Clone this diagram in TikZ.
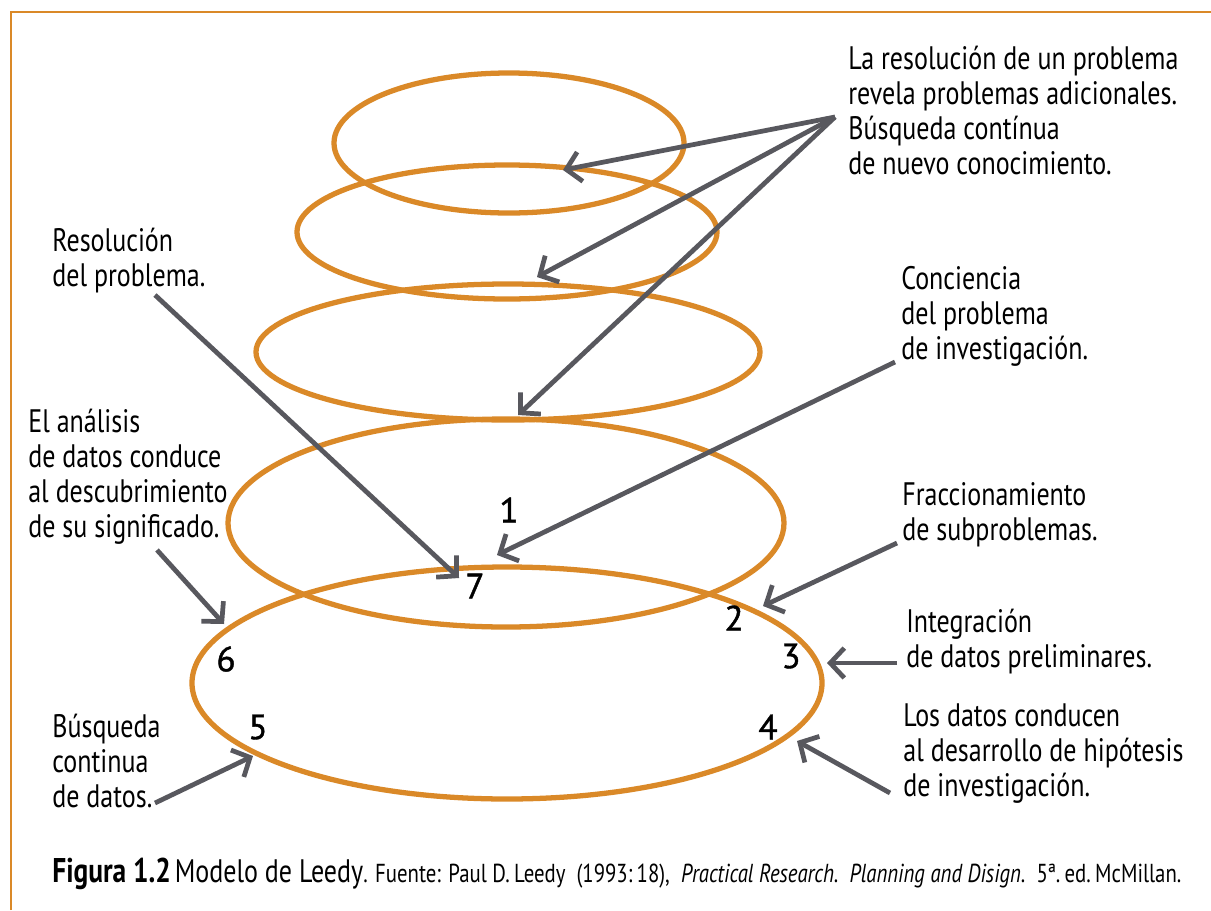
\documentclass[tikz,border=0pt]{standalone}
\usepackage{fontspec}
\setmainfont{PT Sans}[FakeStretch=0.8]
\newfontfamily\numfont{PT Sans}[FakeBold=1.2]
\usetikzlibrary{arrows.meta}
\definecolor{leedyorange}{RGB}{218,137,40}
\definecolor{arrowgray}{RGB}{88,88,94}
\begin{document}
\begin{tikzpicture}
		[	x=0.02cm, y=-0.02cm,
		ring/.style={draw=leedyorange, line width=3pt},
		txt/.style={align=left, anchor=base west, inner sep=0pt, font=\fontsize{18.5}{19.9}\selectfont},
		num/.style={inner sep=0pt, font=\numfont\fontsize{20}{20}\selectfont},
		arr/.style={draw=arrowgray, line width=2.7pt, -{Straight Barb[length=8pt,width=17pt]}}
		]
		\useasboundingbox (0,0) rectangle (1211,910);
		% frame
		\draw[leedyorange, line width=1.6pt] (11,910) -- (11,12) -- (1211,12);

		% rings, bottom to top
		\draw[ring] (507,683) ellipse [x radius=315, y radius=116];
		\draw[ring] (506,523) ellipse [x radius=278, y radius=104];
		\draw[ring] (508,352) ellipse [x radius=252, y radius=68];
		\draw[ring] (507,232) ellipse [x radius=210, y radius=67];
		\draw[ring] (509,143) ellipse [x radius=175, y radius=70];

		% numbers
		\node[num] (n1) at (509,510) {1};
		\node[num] (n2) at (734,618) {2};
		\node[num] (n3) at (791,656) {3};
		\node[num] (n4) at (768,727) {4};
		\node[num] (n5) at (258,727) {5};
		\node[num] (n6) at (226,659) {6};
		\node[num] (n7) at (475,586) {7};

		% texts (anchored at the baseline of their last line)
		\node[txt] (adicional) at (848,174) {La resolución de un problema\\revela problemas adicionales.\\Búsqueda contínua\\de nuevo conocimiento.};
		\node[txt] (resolucion) at (52,286) {Resolución\\del problema.};
		\node[txt] (conciencia) at (901,359) {Conciencia\\del problema\\de investigación.};
		\node[txt] (analisis) at (28,537) {El análisis\\de datos conduce\\al descubrimiento\\de su significado.};
		\node[txt] (fraccion) at (902,540) {Fraccionamiento\\de subproblemas.};
		\node[txt] (integracion) at (906,667) {Integración\\de datos preliminares.};
		\node[txt] (hipotesis) at (903,796) {Los datos conducen\\al desarrollo de hipótesis\\de investigación.};
		\node[txt] (busqueda) at (52,807) {Búsqueda\\continua\\de datos.};

		% arrow ends
		\coordinate (from-adic) at (835,117);
		\coordinate (to-r5) at (563,170);
		\coordinate (to-r4) at (537,277);
		\coordinate (to-r3) at (518,415);
		\coordinate (from-resol) at (155,295);
		\coordinate (to-7) at (459,578);
		\coordinate (from-conc) at (895,362);
		\coordinate (to-1) at (497,555);
		\coordinate (from-frac) at (897,543);
		\coordinate (to-2) at (763,606);
		\coordinate (from-integ) at (897,663);
		\coordinate (to-3) at (827,663);
		\coordinate (from-hip) at (890,793);
		\coordinate (to-4) at (797,741);
		\coordinate (from-anal) at (157,550);
		\coordinate (to-6) at (224,624);
		\coordinate (from-busq) at (155,803);
		\coordinate (to-5) at (253,756);

		\draw[arr] (from-adic) -- (to-r5);
		\draw[arr] (from-adic) -- (to-r4);
		\draw[arr] (from-adic) -- (to-r3);
		\draw[arr] (from-resol) -- (to-7);
		\draw[arr] (from-conc) -- (to-1);
		\draw[arr] (from-frac) -- (to-2);
		\draw[arr] (from-integ) -- (to-3);
		\draw[arr] (from-hip) -- (to-4);
		\draw[arr] (from-anal) -- (to-6);
		\draw[arr] (from-busq) -- (to-5);

		% caption
		\node[anchor=base west, inner sep=0pt] (caption) at (52,882) {{\fontsize{19.5}{19}\selectfont\bfseries Figura 1.2} {\fontsize{18.5}{20}\selectfont Modelo de Leedy}{\fontsize{14.8}{15}\selectfont. Fuente: Paul D.\,Leedy\ \ (1993:\,18), \ \textit{Practical Research.\ \ Planning and Disign.}\ \ 5ª.\,ed.\,McMillan.}};
	\end{tikzpicture}
\end{document}
